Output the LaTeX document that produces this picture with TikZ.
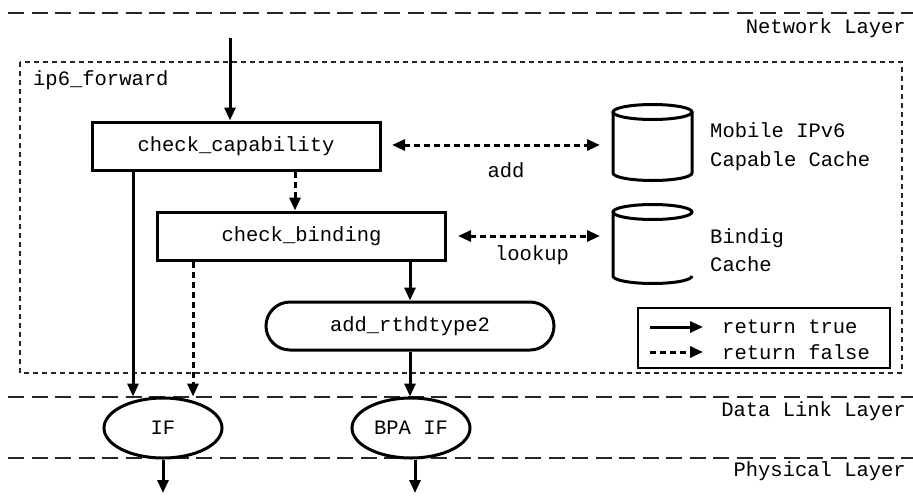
\documentclass[tikz,border=0pt]{standalone}
\usepackage{fontspec}
\setmainfont{Liberation Mono}
\usetikzlibrary{arrows.meta,shapes.geometric,shapes.misc}
\begin{document}
\begin{tikzpicture}[x=1pt,y=-1pt,
  font=\fontsize{20.5}{24}\selectfont,
  every node/.style={inner sep=0pt},
  proc/.style={draw, line width=3pt, minimum width=288pt, minimum height=48pt},
  term/.style={draw, rounded rectangle, line width=3pt, minimum width=288pt, minimum height=48pt},
  iface/.style={draw, ellipse, line width=3pt, minimum width=118pt, minimum height=60pt},
  layerline/.style={line width=1.8pt, dash pattern=on 16pt off 7.5pt, black!85},
  groupbox/.style={line width=1.5pt, dash pattern=on 5pt off 4pt, black!85},
  flow/.style={line width=3pt, -{Triangle[length=13pt,width=11pt]}},
  noflow/.style={flow, dash pattern=on 6pt off 4pt},
  both/.style={line width=3pt, dash pattern=on 6pt off 4pt, {Triangle[length=13pt,width=11pt]}-{Triangle[length=13pt,width=11pt]}},
  dbcyl/.style={line width=3pt},
  layerlabel/.style={anchor=east}
]
\useasboundingbox (0,0) rectangle (913,498);

% layer lines
\draw[layerline] (8,13) -- (913,13);
\draw[layerline] (8,397) -- (913,397);
\draw[layerline] (8,458) -- (913,458);
\node[layerlabel] (nl) at (906,28) {Network Layer};
\node[layerlabel] (dl) at (906,411) {Data Link Layer};
\node[layerlabel] (pl) at (906,471) {Physical Layer};

% group box
\draw[groupbox] (20,62) rectangle (902,373);
\node[anchor=west] (gl) at (33,80) {ip6\_forward};

% process nodes
\node[proc] (cc) at (236,146) {check\_capability};
\node[proc] (cb) at (301.5,236) {check\_binding};
\node[term] (ar) at (410,326) {add\_rthdtype2};
\node[iface] (if) at (163,428) {IF};
\node[iface] (bpa) at (411,428) {BPA IF};

% caches
\draw[dbcyl] (613,112) -- (613,173) arc[start angle=180,end angle=0,x radius=39.5,y radius=7.5] -- (692,112);
\draw[dbcyl] (652.5,112) ellipse[x radius=39.5,y radius=7.5];
\node[minimum width=79pt, minimum height=75pt] (mc) at (652.5,142.5) {};
\draw[dbcyl] (613,212) -- (613,276) arc[start angle=180,end angle=0,x radius=39.5,y radius=7.5] -- (692,276);
\draw[dbcyl] (652.5,212) ellipse[x radius=39.5,y radius=7.5];
\node[minimum width=79pt, minimum height=78pt] (bc) at (652.5,244) {};
\node[anchor=west, align=left, font=\fontsize{20.5}{29}\selectfont] (mcl) at (710,147) {Mobile IPv6\\Capable Cache};
\node[anchor=west, align=left, font=\fontsize{20.5}{28}\selectfont] (bcl) at (710,250) {Bindig\\Cache};

% coordinates
\coordinate (src) at (230,38);
\coordinate (c1) at (133,0);
\coordinate (c2) at (193,0);
\coordinate (c3) at (295,0);
\coordinate (c4) at (410,0);
\coordinate (o1) at (163,493);
\coordinate (o2) at (415,493);
\coordinate (a1) at (392,145);
\coordinate (a2) at (600,145);
\coordinate (b1) at (458,236);
\coordinate (b2) at (600,236);

% connectors
\draw[flow] (src) -- (src |- cc.north);
\draw[flow] (c1 |- cc.south) -- (c1 |- if.north);
\draw[noflow] (c3 |- cc.south) -- (c3 |- cb.north);
\draw[noflow] (c2 |- cb.south) -- (c2 |- if.north);
\draw[flow] (c4 |- cb.south) -- (c4 |- ar.north);
\draw[flow] (c4 |- ar.south) -- (c4 |- bpa.north);
\draw[flow] (o1 |- if.south) -- (o1);
\draw[flow] (o2 |- bpa.south) -- (o2);
\draw[both] (a1) -- (a2);
\draw[both] (b1) -- (b2);
\node (addl) at (506,170) {add};
\node (lkl) at (532,255) {lookup};

% legend
\draw[line width=2pt] (638,308) rectangle (890,368);
\coordinate (l1) at (650,327);
\coordinate (l2) at (703,327);
\coordinate (l3) at (650,352);
\coordinate (l4) at (703,352);
\draw[flow] (l1) -- (l2);
\draw[noflow] (l3) -- (l4);
\node[anchor=west] (lt) at (722,327) {return true};
\node[anchor=west] (lf) at (722,352) {return false};
\end{tikzpicture}
\end{document}
